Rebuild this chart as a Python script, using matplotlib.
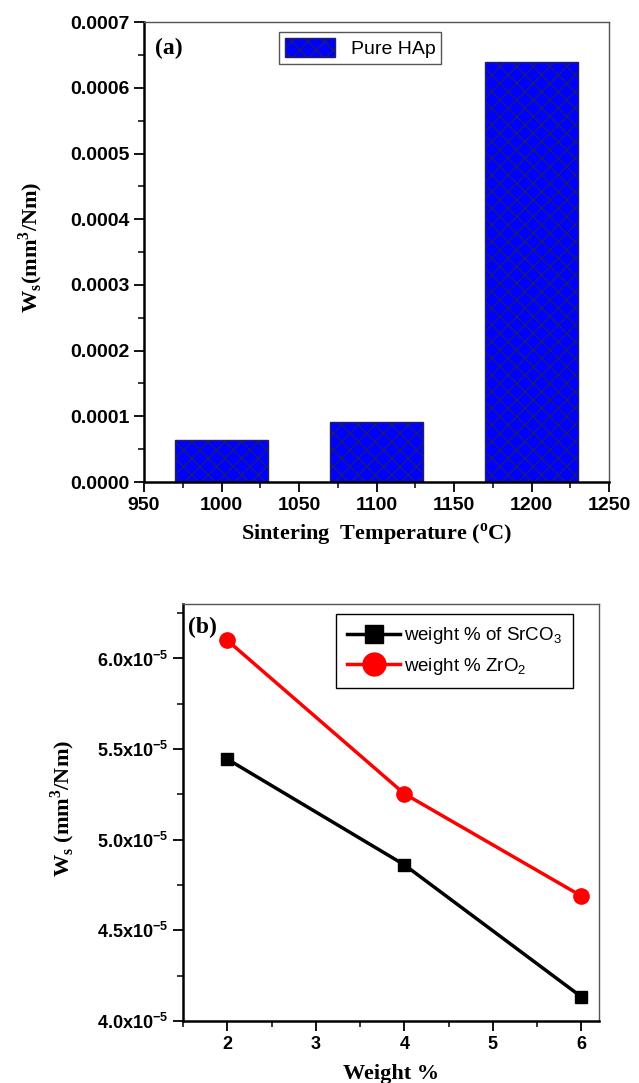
import numpy as np
import matplotlib
matplotlib.use('Agg')
import matplotlib.pyplot as plt
from matplotlib.ticker import MultipleLocator, FuncFormatter

# wear rate vs sintering temperature, pure HAp
temperaturas = [1000, 1100, 1200]
ws_hap = [0.0000635, 0.0000913, 0.00064]

# wear rate vs additive weight %
peso = [2, 4, 6]
ws_srco3 = [5.445e-5, 4.862e-5, 4.134e-5]
ws_zro2 = [6.10e-5, 5.254e-5, 4.69e-5]

sans = 'Liberation Sans'
serif = 'Liberation Serif'

plt.rcParams['hatch.linewidth'] = 0.8
# rm -> numeros de los ejes, bf -> etiquetas en Times, sf -> leyenda
plt.rcParams['mathtext.fontset'] = 'custom'
plt.rcParams['mathtext.rm'] = sans + ':bold'
plt.rcParams['mathtext.bf'] = serif + ':bold'
plt.rcParams['mathtext.sf'] = sans
plt.rcParams['mathtext.default'] = 'rm'

fig = plt.figure(figsize=(6.39, 10.83), dpi=100)


def estilo_ejes(ax, tam):
    for lado in ('left', 'bottom'):
        ax.spines[lado].set_linewidth(1.8)
        ax.spines[lado].set_color('black')
    for lado in ('top', 'right'):
        ax.spines[lado].set_linewidth(1.0)
        ax.spines[lado].set_color('#555555')
    ax.tick_params(which='major', direction='out', length=7, width=1.3,
                   top=False, right=False)
    ax.tick_params(which='minor', direction='out', length=4, width=1.1,
                   top=False, right=False)
    for lab in ax.get_xticklabels() + ax.get_yticklabels():
        lab.set_fontfamily(sans)
        lab.set_fontweight('bold')
        lab.set_fontsize(tam)


# ---- (a) barras ----
ax1 = fig.add_axes([0.2254, 0.5549, 0.7277, 0.4247])
ax1.bar(temperaturas, ws_hap, width=60, color='#0000ff', edgecolor='#202060',
        linewidth=1.0, hatch='xx', label='Pure HAp', zorder=2)
ax1.set_xlim(950, 1250)
ax1.set_ylim(0, 0.0007)
ax1.xaxis.set_major_locator(MultipleLocator(50))
ax1.xaxis.set_minor_locator(MultipleLocator(25))
ax1.yaxis.set_major_locator(MultipleLocator(0.0001))
ax1.yaxis.set_minor_locator(MultipleLocator(0.00005))
ax1.yaxis.set_major_formatter(FuncFormatter(lambda v, p: '{:.4f}'.format(v)))
estilo_ejes(ax1, 14)
ax1.set_xlabel(r'Sintering  Temperature ($^{\mathbf{o}}$C)', fontfamily=serif,
               fontweight='bold', fontsize=16, labelpad=6)
ax1.set_ylabel(r'W$_{\mathbf{s}}$(mm$^{\mathbf{3}}$/Nm)', fontfamily=serif,
               fontweight='bold', fontsize=16)
ax1.yaxis.set_label_coords(-0.213, 0.51)
ax1.text(0.024, 0.943, '(a)', transform=ax1.transAxes, fontfamily=serif,
         fontweight='bold', fontsize=17, va='center', ha='left')
leg1 = ax1.legend(loc='upper left', bbox_to_anchor=(0.29, 0.978),
                  borderaxespad=0, fancybox=False, edgecolor='#555555',
                  framealpha=1, prop={'family': sans, 'size': 14},
                  handlelength=2.6, handleheight=1.1, borderpad=0.3)
leg1.get_frame().set_linewidth(1.0)

# ---- (b) lineas ----
ax2 = fig.add_axes([0.2864, 0.0572, 0.651, 0.385])
ax2.plot(peso, ws_srco3, color='black', lw=2.5, marker='s', ms=9,
         label=r'weight % of SrCO$_{\mathsf{3}}$', zorder=3)
ax2.plot(peso, ws_zro2, color='#ff0000', lw=2.5, marker='o', ms=11,
         label=r'weight % ZrO$_{\mathsf{2}}$', zorder=3)
ax2.set_xlim(1.5, 6.2)
ax2.set_ylim(4.0e-5, 6.3e-5)
ax2.xaxis.set_major_locator(MultipleLocator(1))
ax2.xaxis.set_minor_locator(MultipleLocator(0.5))
ax2.yaxis.set_major_locator(MultipleLocator(0.5e-5))
ax2.yaxis.set_minor_locator(MultipleLocator(0.25e-5))
ax2.yaxis.set_major_formatter(
    FuncFormatter(lambda v, p: '{:.1f}x10$^{{-5}}$'.format(v * 1e5)))
estilo_ejes(ax2, 13)
ax2.set_xlabel('Weight %', fontfamily=serif, fontweight='bold',
               fontsize=16, labelpad=8)
ax2.set_ylabel(r'W$_{\mathbf{s}}$ (mm$^{\mathbf{3}}$/Nm)', fontfamily=serif,
               fontweight='bold', fontsize=16)
ax2.yaxis.set_label_coords(-0.255, 0.51)
ax2.text(0.012, 0.945, '(b)', transform=ax2.transAxes, fontfamily=serif,
         fontweight='bold', fontsize=17, va='center', ha='left')
leg2 = ax2.legend(loc='upper left', bbox_to_anchor=(0.368, 0.976),
                  borderaxespad=0, fancybox=False, edgecolor='black',
                  framealpha=1, prop={'family': sans, 'size': 13.5},
                  handlelength=2.8, markerscale=1.5, labelspacing=0.5,
                  handletextpad=0.2, borderpad=0.6)
leg2.get_frame().set_linewidth(1.0)

fig.savefig('out.png', dpi=100)
